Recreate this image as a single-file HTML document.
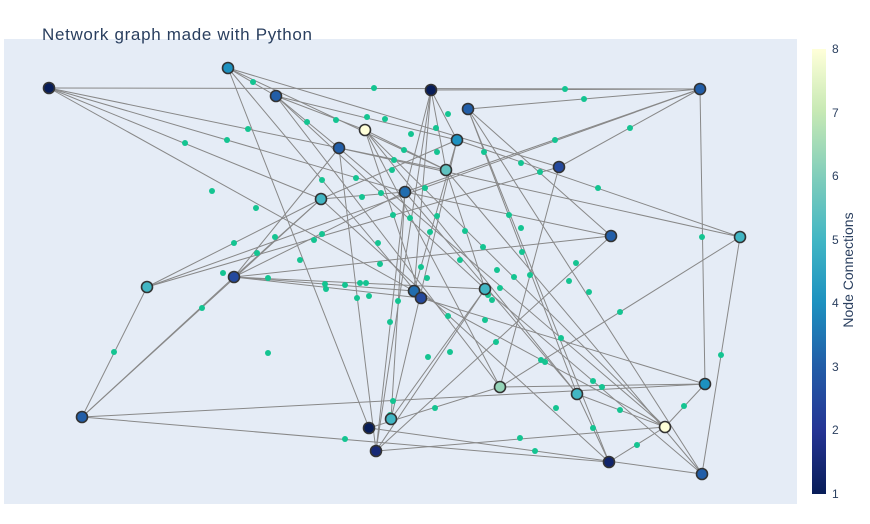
<!DOCTYPE html>
<html><head><meta charset="utf-8"><style>
body{margin:0;background:#fff;width:870px;height:519px;overflow:hidden;font-family:"Liberation Sans",sans-serif}
</style></head><body>
<svg id="s" width="870" height="519" xmlns="http://www.w3.org/2000/svg">
<defs><linearGradient id="cb" x1="0" y1="1" x2="0" y2="0">
<stop offset="0" stop-color="#081d58"/><stop offset="0.14" stop-color="#253494"/><stop offset="0.29" stop-color="#225ea8"/><stop offset="0.43" stop-color="#1d91c0"/><stop offset="0.57" stop-color="#41b6c4"/><stop offset="0.71" stop-color="#7fcdbb"/><stop offset="0.86" stop-color="#c7e9b4"/><stop offset="1" stop-color="#ffffd9"/></linearGradient></defs>
<rect x="4" y="39" width="793" height="465" fill="#e5ecf6"/>
<text x="42" y="40" font-size="17" fill="#2a3f5f" textLength="270" lengthAdjust="spacing">Network graph made with Python</text>
<g id="e" stroke="#888" stroke-width="1"></g>
<g id="d" fill="#14c491"></g>
<g id="n" stroke="#333" stroke-width="1.6"></g>
<rect x="812" y="49" width="14" height="445" fill="url(#cb)"/>
<g font-size="12" fill="#2a3f5f">
<text x="832" y="53">8</text><text x="832" y="117">7</text><text x="832" y="180">6</text><text x="832" y="244">5</text><text x="832" y="307">4</text><text x="832" y="371">3</text><text x="832" y="434">2</text><text x="832" y="498">1</text>
</g>
<text transform="translate(853,270) rotate(-90)" text-anchor="middle" font-size="14" fill="#2a3f5f">Node Connections</text>
</svg>
<script>
var N=[null,[49,88,1],[228,68,4],[276,96,3],[431,90,1],[468,109,3],[700,89,3],[365,130,8],[457,140,4],[339,148,3],[446,170,5.5],[559,167,2.5],[405,192,3.3],[321,199,5],[611,236,3],[740,237,5],[147,287,5],[234,277,2.5],[414,291,3.3],[421,298,2.5],[485,289,5],[500,387,6.3],[577,394,5],[705,384,4],[665,427,8],[82,417,3],[369,428,1],[391,419,5],[376,451,1.5],[609,462,1.3],[702,474,3]];
var E=[[1,6],[4,6],[1,13],[1,12],[1,10],[2,3],[2,19],[2,26],[2,10],[2,11],[3,21],[3,20],[3,9],[3,8],[4,12],[4,18],[4,10],[4,8],[4,28],[5,29],[5,14],[5,22],[5,6],[5,30],[6,23],[6,12],[6,11],[6,16],[7,19],[7,24],[7,10],[7,22],[7,21],[8,13],[8,15],[8,18],[8,27],[9,24],[9,28],[9,15],[10,20],[10,30],[11,21],[11,16],[12,17],[12,14],[12,13],[12,28],[12,27],[12,22],[13,16],[13,25],[13,17],[13,29],[14,28],[14,17],[15,30],[15,21],[16,25],[17,20],[17,18],[17,19],[17,25],[18,24],[19,23],[20,30],[20,28],[20,27],[21,26],[21,23],[22,24],[22,29],[23,24],[23,25],[24,28],[24,29],[25,29],[26,30],[1,18],[3,7],[9,17]];
var D=[[253,82],[374,88],[565,89],[584,99],[248,129],[227,140],[185,143],[307,122],[336,120],[367,117],[385,119],[411,134],[436,128],[448,114],[555,140],[630,128],[484,152],[521,163],[540,172],[598,188],[212,191],[256,208],[322,180],[356,178],[394,160],[392,170],[404,150],[437,152],[425,188],[362,197],[381,193],[393,215],[410,218],[437,216],[465,231],[509,215],[521,228],[430,232],[234,243],[275,237],[314,240],[322,234],[300,260],[257,253],[223,273],[268,278],[325,284],[326,289],[345,285],[360,283],[366,283],[369,296],[357,298],[380,264],[378,243],[421,267],[427,278],[460,260],[483,247],[497,270],[514,277],[522,252],[530,275],[576,263],[569,281],[589,292],[488,295],[492,300],[500,288],[202,308],[114,352],[268,353],[390,322],[398,301],[448,316],[485,320],[496,342],[620,312],[561,338],[428,357],[450,352],[541,360],[545,362],[593,381],[602,387],[620,410],[556,408],[435,408],[393,401],[390,415],[345,439],[520,438],[535,451],[593,428],[637,445],[684,406],[721,355],[702,237]];
var st=[[1,[8,29,88]],[2,[37,52,148]],[3,[34,94,168]],[4,[29,145,192]],[5,[65,182,196]],[6,[127,205,187]],[7,[199,233,180]],[8,[255,255,217]]];
function col(v){for(var i=0;i<7;i++){if(v<=st[i+1][0]){var t=(v-st[i][0]),a=st[i][1],b=st[i+1][1];return"rgb("+a.map(function(x,k){return Math.round(x+(b[k]-x)*t)}).join(",")+")";}}return"rgb(255,255,217)";}
var ns="http://www.w3.org/2000/svg";
function mk(tag,at,p){var el=document.createElementNS(ns,tag);for(var k in at)el.setAttribute(k,at[k]);document.getElementById(p).appendChild(el);}
E.forEach(function(e){var a=N[e[0]],b=N[e[1]];mk("line",{x1:a[0],y1:a[1],x2:b[0],y2:b[1]},"e");});
D.forEach(function(p){mk("circle",{cx:p[0],cy:p[1],r:3},"d");});
N.forEach(function(p){if(p)mk("circle",{cx:p[0],cy:p[1],r:5.5,fill:col(p[2])},"n");});
</script>
</body></html>
